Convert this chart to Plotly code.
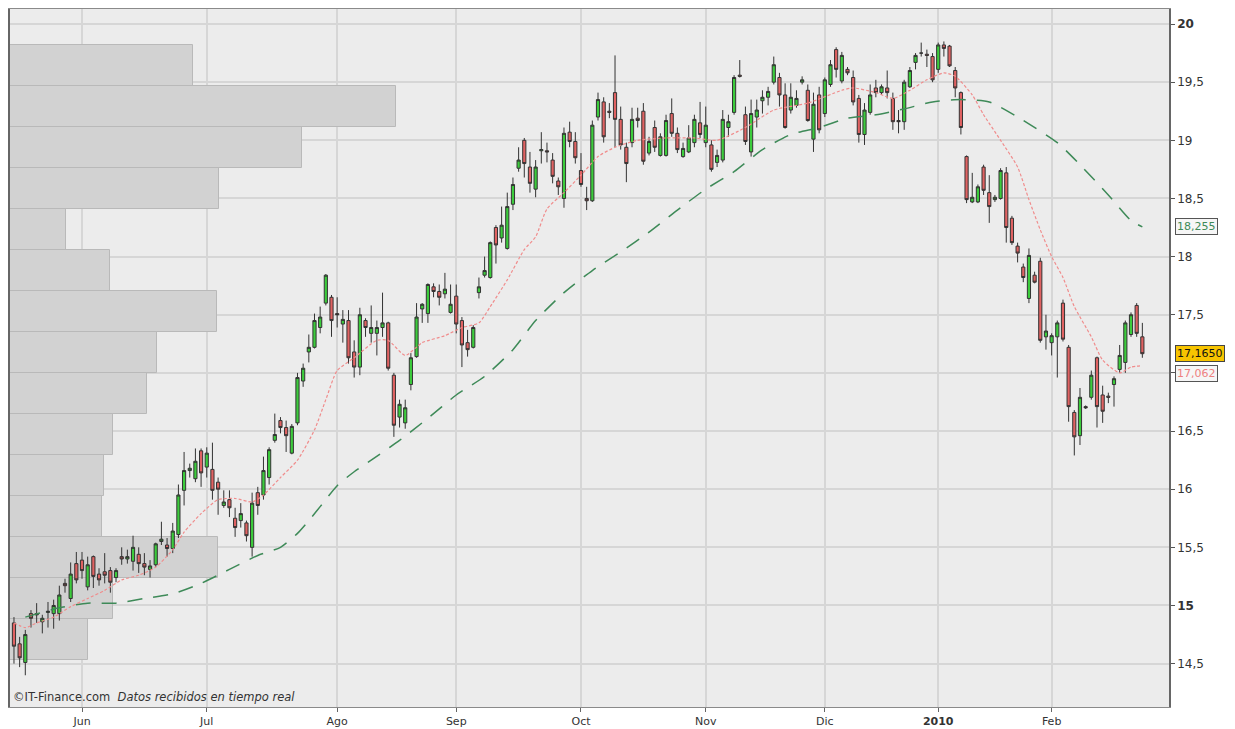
import pandas as pd
import plotly.graph_objects as go

# ---------------------------------------------------------------- sessions
holidays = ["2009-12-24", "2009-12-25", "2009-12-31", "2010-01-01"]
sessions = [d.strftime("%Y-%m-%d") for d in pd.bdate_range("2009-05-14", "2010-02-23")
            if d.strftime("%Y-%m-%d") not in holidays]

# ---------------------------------------------------------------- daily OHLC
open_ = [
    14.85, 14.67, 14.51, 14.93, 14.93, 14.86, 14.94, 14.93, 14.93, 15.19,
    15.06, 15.36, 15.39, 15.16, 15.42, 15.27, 15.29, 15.30, 15.24, 15.42,
    15.40, 15.38, 15.44, 15.36, 15.31, 15.35, 15.55, 15.52, 15.49, 15.61,
    15.99, 16.16, 16.09, 16.33, 16.19, 16.17, 16.06, 15.86, 15.91, 15.75,
    15.73, 15.71, 15.50, 15.97, 15.95, 16.10, 16.42, 16.59, 16.53, 16.31,
    16.57, 16.93, 17.18, 17.22, 17.39, 17.60, 17.65, 17.51, 17.42, 17.45,
    17.18, 17.05, 17.45, 17.34, 17.34, 17.39, 17.43, 16.98, 16.62, 16.57,
    16.90, 17.14, 17.55, 17.51, 17.74, 17.70, 17.68, 17.52, 17.66, 17.45,
    17.26, 17.22, 17.69, 17.84, 17.82, 18.25, 18.16, 18.07, 18.45, 18.76,
    19.00, 18.77, 18.58, 18.91, 18.91, 18.83, 18.65, 18.50, 19.07, 18.99,
    18.74, 18.50, 18.48, 19.20, 19.33, 19.25, 19.41, 19.18, 18.94, 18.98,
    19.19, 19.25, 18.89, 19.11, 18.87, 18.87, 19.23, 19.06, 18.86, 18.90,
    18.98, 19.15, 18.98, 18.96, 18.81, 18.83, 19.11, 19.24, 19.56, 19.22,
    18.90, 19.20, 19.34, 19.37, 19.50, 19.54, 19.39, 19.26, 19.30, 19.50,
    19.43, 19.01, 19.39, 19.23, 19.48, 19.78, 19.51, 19.61, 19.54, 19.36,
    19.05, 19.24, 19.45, 19.41, 19.45, 19.36, 19.17, 19.16, 19.46, 19.67,
    19.75, 19.74, 19.72, 19.61, 19.82, 19.81, 19.60, 19.41, 18.86, 18.47,
    18.47, 18.77, 18.55, 18.49, 18.50, 18.72, 18.33, 18.09, 17.91, 17.64,
    17.84, 17.96, 17.31, 17.26, 17.31, 17.60, 17.22, 16.66, 16.46, 16.71,
    16.79, 17.13, 16.81, 16.80, 16.90, 17.03, 17.09, 17.33, 17.58, 17.31,
]
high = [
    14.90, 14.73, 14.79, 14.96, 15.02, 14.92, 15.03, 15.05, 15.17, 15.23,
    15.37, 15.46, 15.46, 15.42, 15.43, 15.32, 15.45, 15.33, 15.32, 15.50,
    15.48, 15.60, 15.50, 15.45, 15.39, 15.54, 15.72, 15.58, 15.71, 16.04,
    16.32, 16.22, 16.35, 16.35, 16.36, 16.40, 16.10, 15.99, 15.99, 15.84,
    15.88, 15.73, 15.97, 16.02, 16.28, 16.36, 16.65, 16.62, 16.59, 16.56,
    17.00, 17.08, 17.33, 17.51, 17.57, 17.85, 17.67, 17.65, 17.54, 17.54,
    17.28, 17.56, 17.47, 17.58, 17.45, 17.69, 17.44, 17.00, 16.77, 16.77,
    17.17, 17.60, 17.60, 17.77, 17.77, 17.76, 17.86, 17.76, 17.76, 17.48,
    17.37, 17.41, 17.82, 18.00, 18.13, 18.27, 18.43, 18.55, 18.68, 18.94,
    19.02, 18.90, 18.83, 19.07, 18.98, 18.89, 18.68, 19.11, 19.16, 19.07,
    18.89, 18.60, 19.17, 19.41, 19.37, 19.32, 19.73, 19.29, 18.98, 19.28,
    19.28, 19.32, 19.03, 19.17, 19.06, 19.22, 19.36, 19.11, 18.98, 19.13,
    19.22, 19.33, 19.29, 19.00, 18.92, 19.26, 19.22, 19.56, 19.69, 19.29,
    19.35, 19.35, 19.43, 19.46, 19.72, 19.58, 19.49, 19.49, 19.43, 19.55,
    19.48, 19.41, 19.46, 19.54, 19.69, 19.80, 19.76, 19.63, 19.60, 19.39,
    19.32, 19.48, 19.52, 19.48, 19.60, 19.41, 19.26, 19.52, 19.63, 19.75,
    19.84, 19.78, 19.75, 19.84, 19.85, 19.82, 19.63, 19.42, 18.87, 18.72,
    18.62, 18.79, 18.70, 18.53, 18.76, 18.77, 18.35, 18.12, 17.94, 18.07,
    17.87, 17.99, 17.50, 17.34, 17.45, 17.63, 17.24, 16.68, 16.87, 16.72,
    17.02, 17.14, 16.89, 16.83, 16.97, 17.24, 17.45, 17.52, 17.60, 17.43,
]
low = [
    14.50, 14.47, 14.40, 14.81, 14.85, 14.76, 14.81, 14.80, 14.87, 15.11,
    15.03, 15.19, 15.23, 15.13, 15.15, 15.17, 15.19, 15.11, 15.20, 15.35,
    15.36, 15.30, 15.28, 15.26, 15.24, 15.33, 15.52, 15.42, 15.45, 15.58,
    15.86, 16.10, 16.06, 16.02, 16.10, 15.91, 15.78, 15.84, 15.76, 15.59,
    15.67, 15.55, 15.42, 15.78, 15.91, 16.04, 16.40, 16.48, 16.32, 16.30,
    16.55, 16.88, 17.09, 17.21, 17.34, 17.58, 17.31, 17.39, 17.26, 17.08,
    16.96, 16.98, 17.31, 17.26, 17.15, 17.31, 17.02, 16.45, 16.53, 16.52,
    16.85, 17.13, 17.43, 17.43, 17.65, 17.58, 17.64, 17.51, 17.34, 17.05,
    17.14, 17.21, 17.64, 17.82, 17.81, 17.94, 18.12, 18.06, 18.40, 18.73,
    18.68, 18.55, 18.51, 18.80, 18.81, 18.63, 18.53, 18.42, 18.94, 18.80,
    18.60, 18.40, 18.47, 19.17, 18.98, 19.19, 18.94, 18.92, 18.64, 18.94,
    19.11, 18.79, 18.87, 18.90, 18.86, 18.86, 19.03, 18.89, 18.85, 18.89,
    18.94, 19.02, 18.94, 18.73, 18.77, 18.81, 19.03, 19.22, 19.54, 18.96,
    18.86, 19.11, 19.23, 19.30, 19.48, 19.29, 19.10, 19.23, 19.28, 19.48,
    19.16, 18.90, 19.06, 19.20, 19.46, 19.54, 19.49, 19.56, 19.30, 18.98,
    18.96, 19.22, 19.37, 19.39, 19.36, 19.09, 19.06, 19.09, 19.45, 19.61,
    19.72, 19.63, 19.50, 19.58, 19.72, 19.63, 19.37, 19.05, 18.46, 18.46,
    18.46, 18.53, 18.29, 18.47, 18.49, 18.12, 18.10, 17.95, 17.78, 17.60,
    17.77, 17.26, 17.20, 17.15, 16.96, 17.27, 16.58, 16.29, 16.38, 16.69,
    16.77, 16.53, 16.57, 16.74, 16.71, 17.00, 17.00, 17.31, 17.31, 17.13,
]
close = [
    14.65, 14.55, 14.75, 14.89, 14.92, 14.89, 14.95, 15.00, 15.09, 15.17,
    15.27, 15.22, 15.30, 15.35, 15.25, 15.22, 15.26, 15.20, 15.30, 15.40,
    15.42, 15.50, 15.36, 15.33, 15.34, 15.53, 15.57, 15.49, 15.64, 15.95,
    16.16, 16.18, 16.24, 16.14, 16.31, 15.99, 16.00, 15.89, 15.84, 15.67,
    15.79, 15.60, 15.88, 15.86, 16.16, 16.34, 16.47, 16.53, 16.46, 16.54,
    16.96, 17.04, 17.22, 17.45, 17.48, 17.84, 17.45, 17.50, 17.46, 17.13,
    17.05, 17.50, 17.39, 17.39, 17.39, 17.43, 17.04, 16.55, 16.73, 16.70,
    17.13, 17.48, 17.59, 17.76, 17.70, 17.65, 17.72, 17.59, 17.42, 17.24,
    17.20, 17.39, 17.74, 17.88, 18.12, 18.10, 18.27, 18.43, 18.62, 18.83,
    18.80, 18.63, 18.77, 18.92, 18.90, 18.69, 18.60, 19.06, 18.99, 18.85,
    18.62, 18.48, 19.13, 19.35, 19.03, 19.24, 19.18, 18.96, 18.80, 19.18,
    19.17, 18.82, 18.99, 18.94, 19.03, 19.17, 19.06, 18.92, 18.93, 19.02,
    19.18, 19.05, 19.13, 18.75, 18.87, 19.18, 19.16, 19.54, 19.55, 18.99,
    19.23, 19.26, 19.37, 19.42, 19.65, 19.39, 19.11, 19.37, 19.36, 19.52,
    19.17, 19.31, 19.09, 19.52, 19.65, 19.61, 19.73, 19.58, 19.33, 19.05,
    19.26, 19.39, 19.41, 19.46, 19.41, 19.16, 19.16, 19.50, 19.60, 19.73,
    19.75, 19.73, 19.52, 19.82, 19.79, 19.64, 19.45, 19.11, 18.49, 18.51,
    18.60, 18.57, 18.43, 18.51, 18.74, 18.25, 18.12, 18.03, 17.82, 18.01,
    17.78, 17.28, 17.36, 17.32, 17.43, 17.29, 16.71, 16.45, 16.79, 16.70,
    16.98, 16.71, 16.67, 16.79, 16.95, 17.15, 17.43, 17.50, 17.34, 17.165,
]

# ---------------------------------------------------------------- moving averages (session index, value)
ma_fast_idx = [0, 2, 4, 7, 10, 13, 16, 19, 22, 25, 28, 30, 33, 36, 39, 42, 44, 47, 50, 53,
               55, 57, 60, 64, 66, 69, 72, 76, 79, 82, 84, 87, 90, 92, 94, 97, 100, 103, 106, 110,
               115, 120, 124, 129, 134, 140, 146, 148, 152, 155, 158, 161, 164, 166, 169, 171, 174, 177, 179, 181,
               183, 185, 187, 190, 192, 195, 197, 199]
ma_fast = [14.85, 14.81, 14.85, 14.90, 14.99, 15.06, 15.13, 15.22, 15.26, 15.33, 15.48, 15.63, 15.79, 15.91, 15.92, 15.89, 15.95, 16.10, 16.25, 16.51,
           16.77, 17.02, 17.13, 17.28, 17.28, 17.15, 17.26, 17.32, 17.39, 17.43, 17.57, 17.80, 18.06, 18.17, 18.41, 18.55, 18.70, 18.86, 18.94, 19.00,
           19.02, 19.02, 19.00, 19.11, 19.26, 19.32, 19.43, 19.45, 19.41, 19.36, 19.43, 19.52, 19.58, 19.55, 19.39, 19.22, 19.00, 18.77, 18.49, 18.23,
           18.00, 17.82, 17.57, 17.31, 17.11, 17.00, 17.05, 17.062]

ma_slow_idx = [2, 8, 13, 18, 23, 28, 33, 38, 43, 47, 50, 52, 54, 57, 60, 63, 68, 73, 78, 83,
               88, 92, 97, 102, 107, 112, 117, 122, 127, 132, 137, 142, 147, 152, 157, 162, 167, 172, 177, 184,
               188, 193, 197, 199]
ma_slow = [14.90, 14.98, 15.02, 15.02, 15.06, 15.10, 15.19, 15.31, 15.43, 15.50, 15.62, 15.73, 15.85, 16.03, 16.15, 16.25, 16.42, 16.61, 16.81, 16.97,
           17.20, 17.45, 17.69, 17.88, 18.04, 18.21, 18.40, 18.58, 18.73, 18.92, 19.05, 19.11, 19.19, 19.22, 19.27, 19.33, 19.35, 19.33, 19.20, 18.98,
           18.79, 18.53, 18.31, 18.255]

# ---------------------------------------------------------------- volume by price level
vp_price = [19.643, 19.291, 18.938, 18.585, 18.233, 17.880, 17.528, 17.175,
            16.823, 16.470, 16.118, 15.765, 15.413, 15.060, 14.708]
vp_volume = [18.3, 38.6, 29.2, 20.9, 5.6, 10.0, 20.7, 14.7, 13.7, 10.3, 9.4, 9.2, 20.8, 10.3, 7.8]

# ---------------------------------------------------------------- axis labels
month_ticks = ["2009-06-01", "2009-07-01", "2009-08-03", "2009-09-01", "2009-10-01",
               "2009-11-02", "2009-12-01", "2010-01-04", "2010-02-01"]
month_labels = ["Jun", "Jul", "Ago", "Sep", "Oct", "Nov", "Dic", "<b>2010</b>", "Feb"]
price_ticks = [14.5, 15, 15.5, 16, 16.5, 17, 17.5, 18, 18.5, 19, 19.5, 20]
# the "17" level sits under the last-value flags, so its label is left blank
price_labels = ["14,5", "<b>15</b>", "15,5", "16", "16,5", "", "17,5", "18", "18,5", "19", "19,5", "<b>20</b>"]

fig = go.Figure()

# volume profile on the hidden base axis (drawn beneath the price subplot)
fig.add_trace(go.Bar(
    x=vp_volume, y=vp_price, orientation="h", base=0,
    width=vp_price[0] - vp_price[1],
    marker=dict(color="#d2d2d2", line=dict(color="#b9b9b9", width=1)),
    xaxis="x", yaxis="y", hoverinfo="skip", showlegend=False,
))

# long moving average
fig.add_trace(go.Scatter(
    x=[sessions[i] for i in ma_slow_idx], y=ma_slow, mode="lines",
    line=dict(color="#3e8a58", width=1.5, dash="15px,11px", shape="spline", smoothing=0.6),
    xaxis="x2", yaxis="y", hoverinfo="skip", showlegend=False,
))

# short moving average
fig.add_trace(go.Scatter(
    x=[sessions[i] for i in ma_fast_idx], y=ma_fast, mode="lines",
    line=dict(color="#f08c8c", width=1.2, dash="3px,2px", shape="spline", smoothing=0.6),
    xaxis="x2", yaxis="y", hoverinfo="skip", showlegend=False,
))

# candles
fig.add_trace(go.Candlestick(
    x=sessions, open=open_, high=high, low=low, close=close,
    increasing=dict(fillcolor="#3ccc3c", line=dict(color="#333333", width=1)),
    decreasing=dict(fillcolor="#e06262", line=dict(color="#333333", width=1)),
    whiskerwidth=0, xaxis="x2", yaxis="y", showlegend=False,
))

# 2010 year separator
fig.add_shape(type="line", xref="x2", yref="paper", x0="2010-01-04", x1="2010-01-04",
              y0=0, y1=1, line=dict(color="#a0a0a0", width=1.5), layer="below")

fig.update_layout(
    width=1235, height=729,
    margin=dict(l=10, r=66, t=9, b=22, autoexpand=False),
    paper_bgcolor="white", plot_bgcolor="#ececec",
    showlegend=False, bargap=0, boxgap=0.2,
    font=dict(family="DejaVu Sans, Verdana, sans-serif", size=11, color="#333333"),
    xaxis=dict(range=[0, 115.9], visible=False, fixedrange=True, automargin=False),
    xaxis2=dict(
        type="category", categoryorder="array", categoryarray=sessions,
        overlaying="x", anchor="y", side="bottom",
        range=[-0.7, 203.7], automargin=False,
        tickmode="array", tickvals=month_ticks, ticktext=month_labels,
        ticks="outside", ticklen=4, tickcolor="#666666",
        tickfont=dict(size=11, color="#333333"),
        showgrid=True, gridcolor="#d6d6d6", gridwidth=1.5,
        showline=True, linecolor="#8a8a8a", linewidth=1, mirror=True,
        rangeslider=dict(visible=False),
    ),
    yaxis=dict(
        side="right", range=[14.127, 20.129], automargin=False,
        tickmode="array", tickvals=price_ticks, ticktext=price_labels,
        ticks="outside", ticklen=4, tickcolor="#555555",
        tickfont=dict(size=12, color="#333333"),
        showgrid=True, gridcolor="#d6d6d6", gridwidth=1.5,
        showline=True, linecolor="#666666", linewidth=1.5, mirror=True,
        zeroline=False,
    ),
    annotations=[
        dict(text="18,255", xref="paper", x=1, xshift=6, xanchor="left",
             yref="y", y=ma_slow[-1], showarrow=False,
             font=dict(size=11, color="#3e8a58"), bgcolor="#f6f6f6",
             bordercolor="#555555", borderwidth=1, borderpad=1),
        dict(text="17,062", xref="paper", x=1, xshift=6, xanchor="left",
             yref="y", y=ma_fast[-1], yshift=-8, showarrow=False,
             font=dict(size=11, color="#ee8080"), bgcolor="#f6f6f6",
             bordercolor="#555555", borderwidth=1, borderpad=1),
        dict(text="17,1650", xref="paper", x=1, xshift=6, xanchor="left",
             yref="y", y=close[-1], showarrow=False,
             font=dict(size=11, color="#111111"), bgcolor="#f7c400",
             bordercolor="#444444", borderwidth=1, borderpad=1),
        dict(text="©IT-Finance.com  <i>Datos recibidos en tiempo real</i>",
             xref="paper", x=0, xshift=1, xanchor="left",
             yref="paper", y=0, yshift=1, yanchor="bottom", showarrow=False,
             font=dict(size=11.5, color="#333333")),
    ],
)

fig.write_html("out.html")
